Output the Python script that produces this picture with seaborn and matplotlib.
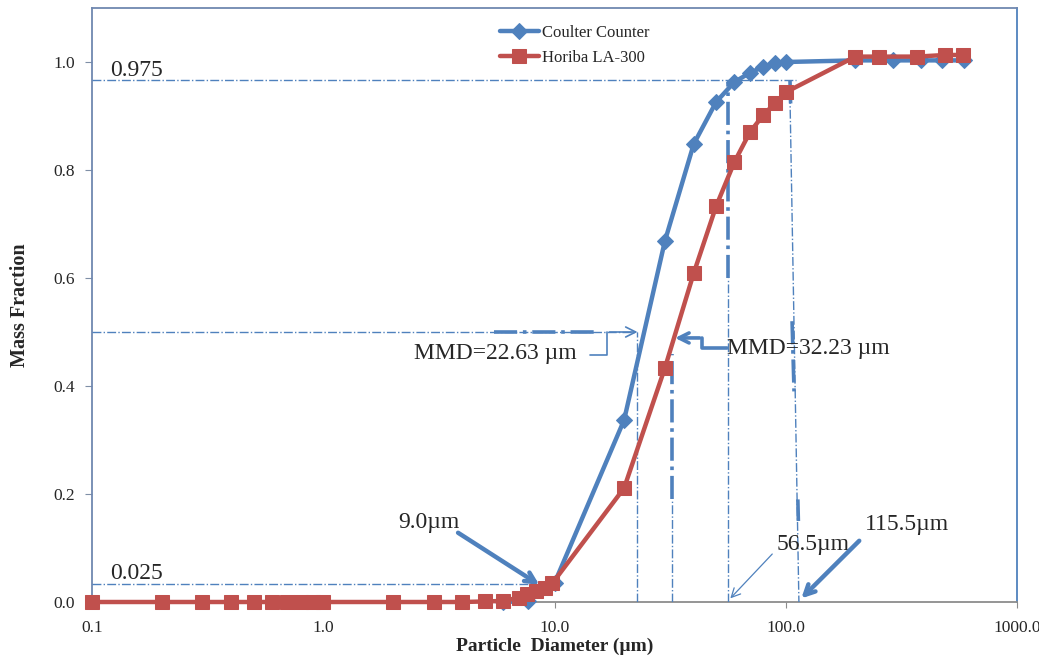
import numpy as np
import pandas as pd
import matplotlib
matplotlib.use("Agg")
import matplotlib.pyplot as plt
import seaborn as sns

# ---------------- data ----------------
coulter_d = [6.0, 7.7, 10.0, 20.0, 30.0, 40.0, 50.0, 60.0, 70.0, 80.0, 90.0, 100.0,
             200.0, 290.0, 385.0, 475.0, 590.0]
coulter_f = [0.0, 0.002, 0.035, 0.337, 0.668, 0.848, 0.926, 0.963, 0.980, 0.991, 0.998, 1.0,
             1.003, 1.003, 1.003, 1.003, 1.003]

horiba_d = [0.1, 0.2, 0.3, 0.4, 0.5, 0.6, 0.7, 0.8, 0.9, 1.0, 2.0, 3.0, 4.0, 5.0,
            6.0, 7.0, 7.6, 8.3, 9.1, 9.8, 20.0, 30.0, 40.0, 50.0, 60.0, 70.0, 80.0, 90.0, 100.0,
            200.0, 253.0, 370.0, 489.0, 585.0]
horiba_f = [0.0, 0.0, 0.0, 0.0, 0.0, 0.0, 0.0, 0.0, 0.0, 0.0, 0.0, 0.0, 0.0, 0.001,
            0.002, 0.008, 0.014, 0.020, 0.026, 0.035, 0.211, 0.433, 0.609, 0.733, 0.815, 0.870,
            0.902, 0.924, 0.944, 1.010, 1.010, 1.010, 1.013, 1.013]

series_names = ["Coulter Counter", "Horiba LA-300"]
x_ticks = [0.1, 1.0, 10.0, 100.0, 1000.0]
x_tick_labels = ["0.1", "1.0", "10.0", "100.0", "1000.0"]
y_ticks = [0.0, 0.2, 0.4, 0.6, 0.8, 1.0]
y_tick_labels = ["0.0", "0.2", "0.4", "0.6", "0.8", "1.0"]

# reference levels / annotation values
upper_level = 0.966
lower_level = 0.033
mmd_level = 0.5
mmd_coulter = 22.63
mmd_horiba = 32.23
d_low = 9.0
d_mid = 56.5
d_high = 115.5

BLUE = "#4F81BD"
RED = "#C0504D"

# ---------------- style ----------------
sns.set_style("white")
plt.rcParams["font.family"] = ["Liberation Serif", "DejaVu Serif"]

fig = plt.figure(figsize=(10.39, 6.56), dpi=100)
ax = fig.add_axes([92 / 1039, 54 / 656, (1017 - 92) / 1039, (602 - 8) / 656])

df_c = pd.DataFrame({"d": coulter_d, "f": coulter_f})
df_h = pd.DataFrame({"d": horiba_d, "f": horiba_f})

sns.lineplot(data=df_c, x="d", y="f", sort=False, color=BLUE, linewidth=3.2,
             marker="D", markersize=8, markeredgecolor=BLUE, label=series_names[0],
             ax=ax, clip_on=False, zorder=5)
sns.lineplot(data=df_h, x="d", y="f", sort=False, color=RED, linewidth=3.2,
             marker="s", markersize=10, markeredgecolor=RED, label=series_names[1],
             ax=ax, clip_on=False, zorder=6)

ax.set_xscale("log")
ax.set_xlim(0.1, 1000)
ax.set_ylim(0, 1.1)
ax.set_xticks(x_ticks)
ax.set_xticklabels(x_tick_labels)
ax.set_yticks(y_ticks)
ax.set_yticklabels(y_tick_labels)
ax.xaxis.set_minor_locator(matplotlib.ticker.LogLocator(base=10, subs=np.arange(2, 10)))
ax.xaxis.set_minor_formatter(matplotlib.ticker.NullFormatter())
ax.tick_params(axis="x", which="major", direction="out", length=4, color="#8C8C8C",
               pad=9, labelsize=12.5)
ax.tick_params(axis="x", which="minor", direction="out", length=3, width=1.2, color="#8C8C8C")
ax.tick_params(axis="y", which="major", direction="out", length=5, color="#7F8FA6",
               pad=7, labelsize=12.5, left=True)
ax.tick_params(axis="x", bottom=True)

for s, c in (("left", "#6F88B0"), ("top", "#6F88B0"), ("right", "#4F81BD"), ("bottom", "#8C8C8C")):
    ax.spines[s].set_visible(True)
    ax.spines[s].set_color(c)
    ax.spines[s].set_linewidth(1.3)

ax.set_xlabel("Particle  Diameter (µm)", fontsize=14, fontweight="bold", va="center")
ax.xaxis.set_label_coords(0.5, (602 - 646) / 594)
ax.set_ylabel("Mass Fraction", fontsize=14.5, fontweight="bold", va="center")
ax.yaxis.set_label_coords((20 - 92) / 925, 0.5)

# ---------------- reference lines ----------------
thin = dict(color=BLUE, linestyle="-.", linewidth=1.0, zorder=3)
thick = dict(color=BLUE, linestyle="-.", linewidth=2.6, zorder=3)

ax.plot([0.1, 111], [upper_level, upper_level], **thin)
ax.plot([0.1, 8.6], [lower_level, lower_level], **thin)
ax.plot([0.1, mmd_coulter], [mmd_level, mmd_level], **thin)
ax.plot([5.5, 15.4], [mmd_level, mmd_level], **thick)
ax.plot([mmd_coulter, mmd_coulter], [0, mmd_level], **thin)
ax.plot([mmd_horiba, mmd_horiba], [0, 0.19], **thin)
ax.plot([mmd_horiba, mmd_horiba], [0.19, 0.46], **thick)
ax.plot([d_mid, d_mid], [0, 0.60], **thin)
ax.plot([d_mid, d_mid], [0.60, upper_level - 0.005], **thick)
ax.plot([104, 114], [upper_level, 0.0], **thin)
ax.plot([106.5, 108.6], [0.52, 0.39], **thick)
ax.plot([104.3, 105.0], [upper_level, 0.92], **thick)
ax.plot([112.8, 113.4], [0.19, 0.15], **thick)

# ---------------- texts & arrows ----------------
tfs = 17
ax.text(0.12, 0.985, "0.975", fontsize=tfs, ha="left", va="center")
ax.text(0.12, 0.052, "0.025", fontsize=tfs, ha="left", va="center")

ax.annotate("", xy=(8.8, 0.029), xytext=(3.74, 0.131),
            arrowprops=dict(arrowstyle="->", color=BLUE, lw=3.2, mutation_scale=18))
ax.text(2.1, 0.148, "9.0µm", fontsize=tfs, ha="left", va="center")

ax.text(2.48, 0.461, "MMD=22.63 µm", fontsize=tfs, ha="left", va="center")
ax.plot([14.2, 16.8, 16.8], [0.457, 0.457, mmd_level], color=BLUE, lw=1.2, zorder=4)
ax.annotate("", xy=(23.5, mmd_level), xytext=(16.8, mmd_level),
            arrowprops=dict(arrowstyle="->", color=BLUE, lw=1.2, mutation_scale=18))

ax.text(55.9, 0.470, "MMD=32.23 µm", fontsize=tfs, ha="left", va="center")
ax.plot([55.9, 43.6, 43.6], [0.470, 0.470, 0.489], color=BLUE, lw=2.6, zorder=4)
ax.annotate("", xy=(32.3, 0.489), xytext=(43.6, 0.489),
            arrowprops=dict(arrowstyle="->", color=BLUE, lw=2.6, mutation_scale=18))

ax.text(91, 0.106, "56.5µm", fontsize=tfs, ha="left", va="center")
ax.annotate("", xy=(d_mid, 0.003), xytext=(89.1, 0.0926),
            arrowprops=dict(arrowstyle="->", color=BLUE, lw=0.9, mutation_scale=16))

ax.text(220, 0.144, "115.5µm", fontsize=tfs, ha="left", va="center")
ax.annotate("", xy=(d_high - 1, 0.003), xytext=(212, 0.117),
            arrowprops=dict(arrowstyle="->", color=BLUE, lw=3.2, mutation_scale=18))

# ---------------- legend ----------------
leg = ax.legend(loc="upper center", bbox_to_anchor=(0.522, 0.997), frameon=False,
                fontsize=12, handlelength=2.3, handletextpad=0.2, labelspacing=0.55)

fig.savefig("out.png", dpi=100)
